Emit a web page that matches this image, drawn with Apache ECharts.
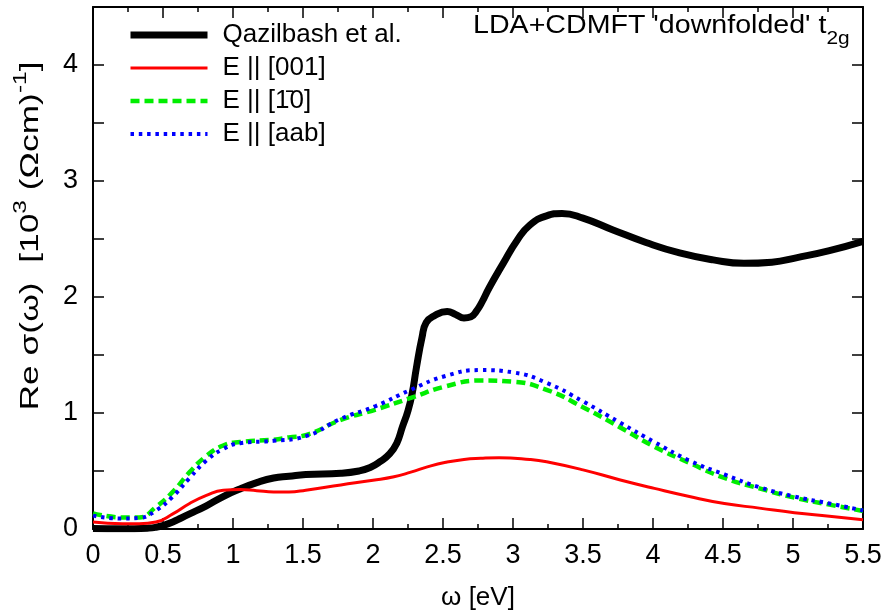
<!DOCTYPE html>
<html><head><meta charset="utf-8">
<script src="https://cdn.jsdelivr.net/npm/echarts@6/dist/echarts.min.js"></script>
<style>html,body{margin:0;padding:0;background:#fff}#c{width:888px;height:614px}</style>
</head><body><div id="c"></div>
<script>
// ---- data ----
const seriesNames = ['Qazilbash et al.', 'E || [001]', 'E || [1\u03040]', 'E || [aab]'];

const qazX = [0.00,0.20,0.40,0.45,0.50,0.57,0.63,0.69,0.81,0.93,1.05,1.17,1.29,1.40,1.52,1.77,1.90,1.98,2.05,2.12,2.17,2.21,2.25,2.28,2.31,2.35,2.38,2.44,2.53,2.59,2.65,2.70,2.74,2.78,2.83,2.93,3.03,3.12,3.24,3.35,3.50,3.71,3.95,4.19,4.43,4.65,4.85,5.03,5.26,5.50];
const qazY = [0.005,0.003,0.008,0.015,0.03,0.06,0.095,0.13,0.20,0.28,0.345,0.40,0.44,0.455,0.47,0.48,0.50,0.53,0.58,0.65,0.74,0.88,1.02,1.17,1.39,1.65,1.78,1.84,1.875,1.85,1.82,1.83,1.88,1.96,2.08,2.29,2.49,2.62,2.70,2.72,2.68,2.58,2.47,2.38,2.32,2.29,2.30,2.34,2.40,2.48];

const e001X = [0.00,0.21,0.33,0.45,0.57,0.69,0.81,0.93,1.05,1.17,1.29,1.40,1.52,1.77,2.00,2.15,2.27,2.40,2.52,2.65,2.77,2.90,3.12,3.24,3.50,3.76,4.01,4.26,4.51,4.76,5.01,5.26,5.50];
const e001Y = [0.06,0.045,0.045,0.06,0.13,0.22,0.29,0.335,0.34,0.33,0.32,0.32,0.335,0.38,0.42,0.45,0.49,0.54,0.575,0.60,0.61,0.615,0.60,0.58,0.51,0.425,0.35,0.28,0.22,0.18,0.14,0.11,0.08];

const e110X = [0.00,0.21,0.33,0.45,0.57,0.69,0.81,0.93,1.05,1.29,1.40,1.52,1.77,2.02,2.27,2.52,2.77,3.00,3.24,3.50,3.76,4.01,4.26,4.51,4.76,5.01,5.26,5.50];
const e110Y = [0.135,0.10,0.10,0.19,0.32,0.49,0.63,0.72,0.75,0.77,0.79,0.81,0.94,1.03,1.13,1.23,1.28,1.27,1.20,1.05,0.88,0.71,0.57,0.44,0.35,0.27,0.21,0.155];

const aabX = [0.00,0.21,0.33,0.45,0.57,0.69,0.81,0.93,1.05,1.29,1.52,1.77,2.02,2.27,2.52,2.77,3.00,3.24,3.50,3.76,4.01,4.26,4.51,4.76,5.01,5.26,5.50];
const aabY = [0.115,0.09,0.095,0.16,0.28,0.44,0.59,0.69,0.74,0.76,0.80,0.95,1.06,1.20,1.32,1.37,1.35,1.26,1.10,0.92,0.75,0.59,0.47,0.36,0.28,0.22,0.16];

const yTickLabels = ['0','1','2','3','4'];

// ---- chart ----
const FONT = 'Liberation Sans';
const zip = (xs, ys) => xs.map((x, i) => [x, ys[i]]);
const chart = echarts.init(document.getElementById('c'), null, {renderer: 'canvas'});

const styles = [
  {color: '#000000', width: 7, type: 'solid'},
  {color: '#ff0000', width: 3, type: 'solid'},
  {color: '#00ee00', width: 4.5, type: [9, 5]},
  {color: '#0000ff', width: 4, type: [3.5, 4.8]}
];

const xCommon = {
  type: 'value', min: 0, max: 5.5, interval: 0.5,
  axisLine: {show: true, onZero: false, lineStyle: {color: '#000', width: 2}},
  axisTick: {show: true, inside: true, length: 11, lineStyle: {color: '#000', width: 1.5}},
  minorTick: {show: true, splitNumber: 2, length: 5, lineStyle: {color: '#000', width: 1.5}},
  splitLine: {show: false}, minorSplitLine: {show: false}
};
const yCommon = {
  type: 'value', min: 0, max: 4.5, interval: 0.5,
  axisLine: {show: true, onZero: false, lineStyle: {color: '#000', width: 2}},
  axisTick: {show: true, inside: true, length: 11, lineStyle: {color: '#000', width: 1.5}},
  splitLine: {show: false}
};

const lineSeries = (i, xs, ys) => ({
  name: seriesNames[i], type: 'line', data: zip(xs, ys), xAxisIndex: 0, yAxisIndex: 0,
  symbol: 'none', showSymbol: false, smooth: 0.5,
  lineStyle: {color: styles[i].color, width: styles[i].width, type: styles[i].type, cap: 'butt'},
  itemStyle: {color: styles[i].color},
  animation: false
});

chart.setOption({
  backgroundColor: '#fff',
  animation: false,
  grid: {left: 93, right: 25, top: 7, bottom: 85, containLabel: false},
  xAxis: [
    Object.assign({}, xCommon, {position: 'bottom',
      axisLabel: {show: true, color: '#000', fontFamily: FONT, fontSize: 27, margin: 13}}),
    Object.assign({}, xCommon, {position: 'top', axisLabel: {show: false}})
  ],
  yAxis: [
    Object.assign({}, yCommon, {position: 'left',
      axisLabel: {show: true, color: '#000', fontFamily: FONT, fontSize: 27, margin: 15,
        formatter: v => (yTickLabels.includes(String(v)) ? String(v) : '')}}),
    Object.assign({}, yCommon, {position: 'right', axisLabel: {show: false}})
  ],
  legend: {
    orient: 'vertical', left: 127, top: 22, padding: 0,
    itemWidth: 77, itemHeight: 14, itemGap: 7,
    data: seriesNames.map((n, i) => ({
      name: n,
      itemStyle: {opacity: 0},
      lineStyle: {color: styles[i].color, width: styles[i].width, type: styles[i].type, cap: 'butt', opacity: 1}
    })),
    itemStyle: {opacity: 0},
    textStyle: {color: '#000', fontFamily: FONT, fontSize: 26, lineHeight: 26, padding: [0, 0, 0, 10]}
  },
  series: [
    lineSeries(0, qazX, qazY),
    lineSeries(1, e001X, e001Y),
    lineSeries(2, e110X, e110Y),
    lineSeries(3, aabX, aabY)
  ],
  graphic: [
    {type: 'text', x: 31, y: 236, rotation: Math.PI / 2, scaleX: 1.36, z: 10,
      style: {text: 'Re \u03c3(\u03c9)  [10{sup|3} (\u03a9cm){sup|-1}]', fontFamily: FONT, fontSize: 26,
        fill: '#000', align: 'center', verticalAlign: 'middle',
        rich: {sup: {fontFamily: FONT, fontSize: 18, padding: [0, 0, 20, 0]}}}},
    {type: 'text', x: 473, y: 26, scaleX: 1.1, z: 10,
      style: {text: "LDA+CDMFT 'downfolded' t{sub|2g}", fontFamily: FONT, fontSize: 26,
        fill: '#000', align: 'left', verticalAlign: 'middle',
        rich: {sub: {fontFamily: FONT, fontSize: 19, padding: [26, 0, 0, 0]}}}},
    {type: 'text', x: 478, y: 598, z: 10,
      style: {text: '\u03c9 [eV]', fontFamily: FONT, fontSize: 26, fill: '#000', align: 'center', verticalAlign: 'middle'}}
  ]
});
</script></body></html>
